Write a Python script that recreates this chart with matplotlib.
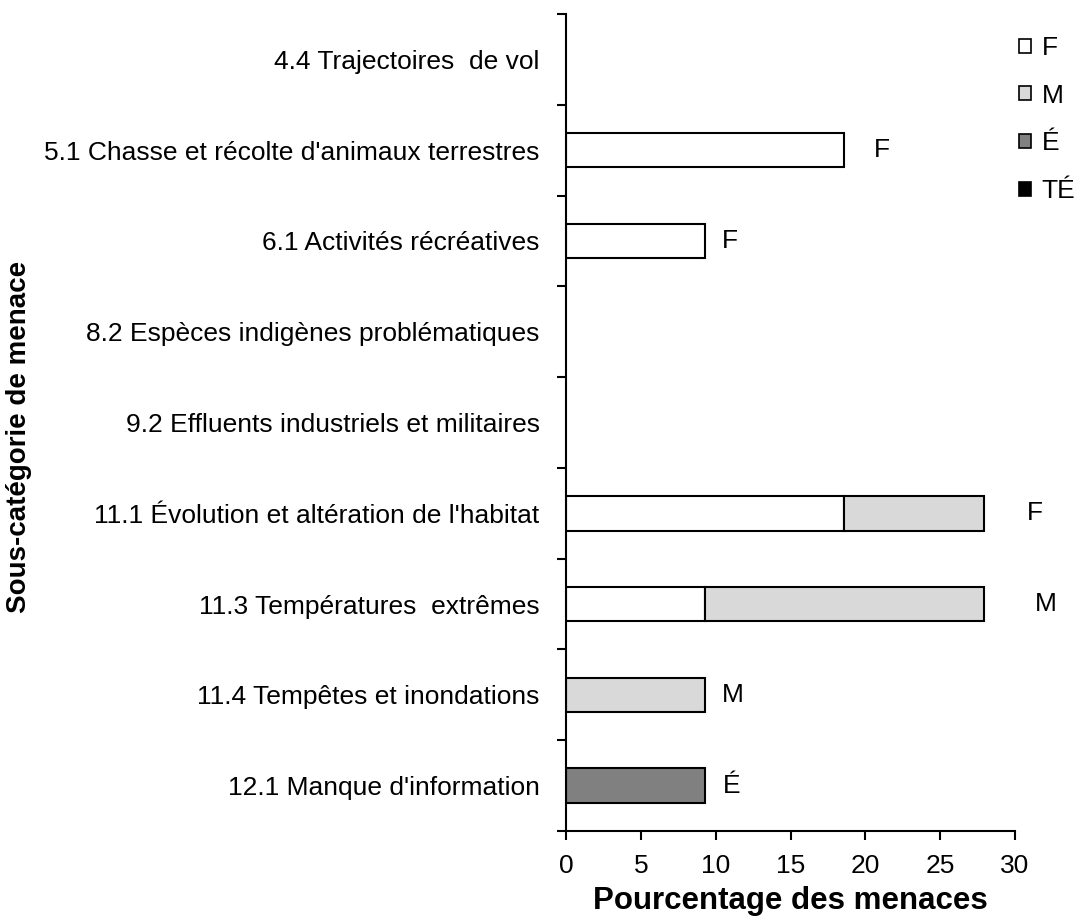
import numpy as np
import matplotlib
matplotlib.use('Agg')
import matplotlib.pyplot as plt
from matplotlib.patches import Patch

plt.rcParams['font.family'] = ['Liberation Sans', 'DejaVu Sans']

categories = ['4.4 Trajectoires  de vol',
              "5.1 Chasse et récolte d'animaux terrestres",
              '6.1 Activités récréatives',
              '8.2 Espèces indigènes problématiques',
              '9.2 Effluents industriels et militaires',
              "11.1 Évolution et altération de l'habitat",
              '11.3 Températures  extrêmes',
              '11.4 Tempêtes et inondations',
              "12.1 Manque d'information"]

levels = ['F', 'M', 'É', 'TÉ']
colors = ['white', '#d9d9d9', '#808080', 'black']

f_vals = [0, 18.6, 9.3, 0, 0, 18.6, 9.3, 0, 0]
m_vals = [0, 0, 0, 0, 0, 9.3, 18.6, 9.3, 0]
e_vals = [0, 0, 0, 0, 0, 0, 0, 0, 9.3]
te_vals = [0, 0, 0, 0, 0, 0, 0, 0, 0]

# overall level written after each bar
bar_labels = ['', 'F', 'F', '', '', 'F', 'M', 'M', 'É']
label_x = [0, 20.6, 10.4, 0, 0, 30.8, 31.3, 10.4, 10.5]

fs = 19

fig = plt.figure(figsize=(10.74, 9.17), dpi=100)
ax = fig.add_axes([566 / 1074, 86 / 917, (1015 - 566) / 1074, (831 - 14) / 917])

y = np.arange(len(categories))
left = np.zeros(len(categories))
for vals, c in zip([f_vals, m_vals, e_vals, te_vals], colors):
    vals = np.array(vals, dtype=float)
    mask = vals > 0
    ax.barh(y[mask], vals[mask], left=left[mask], height=0.38, color=c,
            edgecolor='black', linewidth=1.5)
    left += vals

for i, lab in enumerate(bar_labels):
    if lab:
        ax.text(label_x[i], y[i], lab, ha='left', va='center', fontsize=fs)

ax.set_xlim(0, 30)
ax.set_ylim(len(categories) - 0.5, -0.5)
ax.set_xticks([0, 5, 10, 15, 20, 25, 30])
ax.tick_params(axis='x', direction='out', length=6.5, width=1.5, labelsize=fs, pad=10)

ax.set_yticks(np.arange(-0.5, len(categories), 1))
ax.set_yticklabels([])
ax.tick_params(axis='y', which='major', direction='out', length=6.5, width=1.5)
ax.set_yticks(y, minor=True)
ax.set_yticklabels(categories, minor=True)
ax.tick_params(axis='y', which='minor', length=0, labelsize=fs, pad=19)

for s in ['top', 'right']:
    ax.spines[s].set_visible(False)
for s in ['left', 'bottom']:
    ax.spines[s].set_linewidth(1.5)

ax.set_xlabel('Pourcentage des menaces', fontsize=22.5, fontweight='bold', labelpad=6)
fig.text(19 / 1074, 1 - 437 / 917, 'Sous-catégorie de menace', rotation=90, fontsize=20,
         fontweight='bold', ha='center', va='center')

handles = [Patch(facecolor=c, edgecolor='black', linewidth=1.2) for c in colors]
fig.legend(handles, levels, loc='upper left', bbox_to_anchor=(1019 / 1074, 1 - 36 / 917),
           frameon=False, fontsize=fs, handlelength=0.45, handleheight=0.45,
           handletextpad=0.4, labelspacing=0.9, borderaxespad=0, borderpad=0)

fig.savefig('out.png', dpi=100)
